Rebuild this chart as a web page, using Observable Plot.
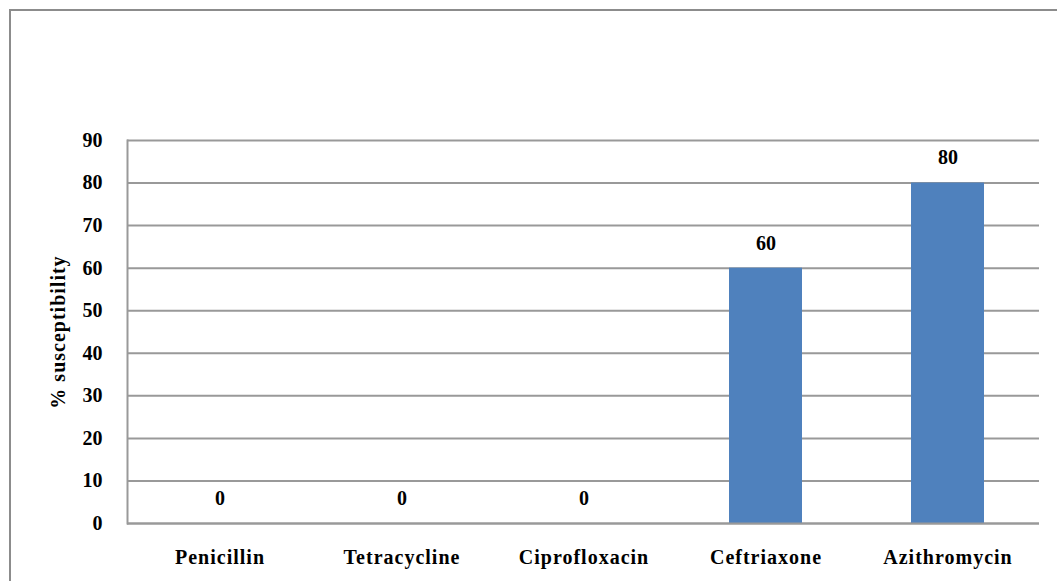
<!DOCTYPE html>
<html>
<head>
<meta charset="utf-8">
<script src="https://cdn.jsdelivr.net/npm/d3@7"></script>
<script src="https://cdn.jsdelivr.net/npm/@observablehq/plot@0.6"></script>
<style>
  html, body { margin: 0; padding: 0; background: #fff; }
  #wrap { position: relative; width: 1057px; height: 581px; overflow: hidden; }
  #border { position: absolute; left: 9px; top: 9px; width: 1200px; height: 800px; border: 2px solid #8c8c8c; box-sizing: border-box; }
  #chart { position: absolute; left: 0; top: 0; }
  #chart svg { font-family: "Liberation Serif", "Times New Roman", serif; font-weight: bold; }
</style>
</head>
<body>
<div id="wrap"><div id="border"></div><div id="chart"></div></div>
<script>
const antibiotics = ["Penicillin", "Tetracycline", "Ciprofloxacin", "Ceftriaxone", "Azithromycin"];
const susceptibility = [0, 0, 0, 60, 80];
const yTicks = [0, 10, 20, 30, 40, 50, 60, 70, 80, 90];

const data = antibiotics.map((name, i) => ({name, value: susceptibility[i]}));

const plot = Plot.plot({
  width: 1057,
  height: 581,
  marginLeft: 127,
  marginRight: 18,
  marginTop: 140,
  marginBottom: 58,
  style: {fontFamily: "'Liberation Serif', 'Times New Roman', serif", fontWeight: "bold", color: "#000", background: "transparent"},
  x: {domain: antibiotics, paddingInner: 0.6, paddingOuter: 0.3},
  y: {domain: [0, 90]},
  marks: [
    Plot.gridY(yTicks, {stroke: "#999", strokeOpacity: 1, strokeWidth: 2}),
    Plot.barY(data, {x: "name", y: "value", fill: "#4F81BD"}),
    Plot.ruleY([0], {stroke: "#999", strokeWidth: 2}),
    Plot.frame({anchor: "left", stroke: "#999", strokeWidth: 2}),
    Plot.text(data, {x: "name", y: "value", text: d => String(d.value), dy: -25, fontSize: 20, fill: "#000"}),
    Plot.axisY(yTicks, {tickSize: 0, tickPadding: 25, fontSize: 20, label: "% susceptibility", labelAnchor: "center", labelOffset: 77, labelArrow: "none"}),
    Plot.axisX({tickSize: 0, tickPadding: 26, fontSize: 20, label: null})
  ]
});
document.getElementById("chart").appendChild(plot);
d3.select(plot).selectAll("g[aria-label='x-axis tick label'] text").style("letter-spacing", "1px");
d3.select(plot).selectAll("g[aria-label='y-axis label'] text").style("letter-spacing", "1px");
</script>
</body>
</html>
